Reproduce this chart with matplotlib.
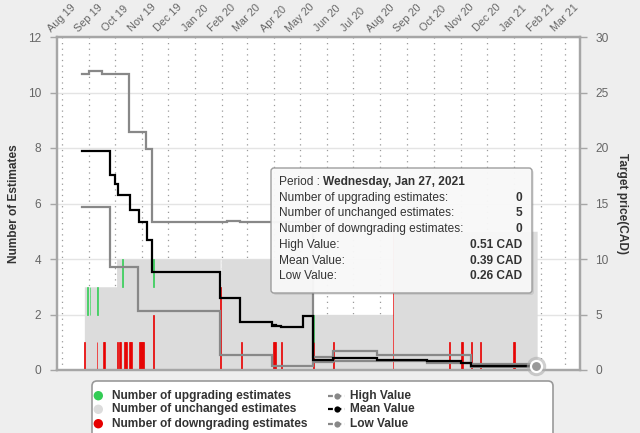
import matplotlib
matplotlib.use("Agg")
import matplotlib.pyplot as plt
import matplotlib.dates as mdates
import matplotlib.transforms as mtransforms
from matplotlib.patches import FancyBboxPatch, Circle
from matplotlib.lines import Line2D
import numpy as np
import pandas as pd

plt.rcParams['font.family'] = ['Liberation Sans', 'DejaVu Sans']

# ---------------- data ----------------
# total number of estimates (step segments, start dates)
seg_start = ['2019-08-27', '2019-10-03', '2020-01-30', '2020-01-31', '2020-05-16', '2020-08-15']
seg_total = [3, 4, 3, 4, 2, 5]
last_day = '2021-01-27'

up_dates = ['2019-08-30', '2019-09-02', '2019-09-11', '2019-10-09', '2019-11-14', '2020-05-16']
up_counts = [1, 1, 1, 1, 1, 1]

down_dates = ['2019-08-27', '2019-09-10', '2019-09-17', '2019-09-18', '2019-09-19',
              '2019-10-04', '2019-10-06', '2019-10-07', '2019-10-12', '2019-10-13',
              '2019-10-14', '2019-10-17', '2019-10-18', '2019-10-19', '2019-10-20',
              '2019-10-29', '2019-10-30', '2019-10-31', '2019-11-01', '2019-11-02',
              '2019-11-14', '2020-01-30', '2020-02-23', '2020-03-31', '2020-04-01',
              '2020-04-02', '2020-04-09', '2020-05-16', '2020-06-08', '2020-08-15',
              '2020-10-19', '2020-11-02', '2020-11-03', '2020-11-13', '2020-11-23',
              '2020-12-31', '2021-01-01']
down_counts = [1, 1, 1, 1, 1,
               1, 1, 1, 1, 1,
               1, 1, 1, 1, 1,
               1, 1, 1, 1, 1,
               2, 3, 1, 1, 1,
               1, 1, 1, 1, 5,
               1, 1, 1, 1, 1,
               1, 1]

high_dates = ['2019-08-24', '2019-09-01', '2019-09-16', '2019-10-17', '2019-11-06', '2019-11-13',
              '2020-02-07', '2020-02-22', '2020-05-16', '2020-06-08', '2020-07-28', '2020-11-13',
              '2021-01-27']
high_vals = [26.7, 26.9, 26.7, 21.4, 19.9, 13.3,
             13.4, 13.3, 1.14, 1.74, 1.38, 0.51,
             0.51]

mean_dates = ['2019-08-24', '2019-09-26', '2019-10-01', '2019-10-05', '2019-10-18', '2019-10-29',
              '2019-11-07', '2019-11-13', '2020-01-30', '2020-02-22', '2020-03-30', '2020-04-01',
              '2020-04-03', '2020-04-09', '2020-05-04', '2020-05-16', '2020-06-08', '2020-07-28',
              '2020-09-23', '2020-11-02', '2020-11-13', '2021-01-27']
mean_vals = [19.7, 17.6, 16.8, 15.8, 14.4, 13.3,
             11.7, 8.8, 6.5, 4.35, 3.96, 4.05,
             3.92, 3.85, 4.86, 0.9, 1.08, 0.93,
             0.78, 0.6, 0.39, 0.39]

low_dates = ['2019-08-24', '2019-09-26', '2019-10-28', '2020-01-30', '2020-03-30', '2020-05-16',
             '2020-06-08', '2020-09-23', '2020-11-13', '2021-01-27']
low_vals = [14.7, 9.3, 5.34, 1.35, 0.36, 0.7,
            0.78, 0.6, 0.26, 0.26]

tooltip_rows = ['Number of upgrading estimates:', 'Number of unchanged estimates:',
                'Number of downgrading estimates:', 'High Value:', 'Mean Value:', 'Low Value:']
tooltip_vals = ['0', '5', '0', '0.51 CAD', '0.39 CAD', '0.26 CAD']

legend_left = ['Number of upgrading estimates', 'Number of unchanged estimates',
               'Number of downgrading estimates']
legend_right = ['High Value', 'Mean Value', 'Low Value']

# ---------------- colours ----------------
C_UP = '#33cc55'
C_UNCH = '#dcdcdc'
C_DOWN = '#e60000'
C_HL = '#888888'
C_MEAN = '#000000'
C_FRAME = '#a6a6a6'
C_TXT = '#333333'
C_TICK = '#666666'
BG = '#eeeeee'

W, H = 640, 433
fig = plt.figure(figsize=(W / 100, H / 100), dpi=100, facecolor=BG)


def fx(x):
    return x / W


def fy(y):
    return 1 - y / H


L, R, T, B = 56.7, 580, 37, 370
ax = fig.add_axes([fx(L), fy(B), fx(R) - fx(L), fy(T) - fy(B)])
ax.set_facecolor('white')
ax2 = ax.twinx()

# ---------------- daily stacked columns ----------------
days = pd.date_range(seg_start[0], last_day, freq='D')
total = pd.Series(0.0, index=days)
for s, t in zip(seg_start, seg_total):
    total.loc[pd.Timestamp(s):] = t
up = pd.Series(0.0, index=days)
for d, c in zip(up_dates, up_counts):
    up.loc[pd.Timestamp(d)] += c
down = pd.Series(0.0, index=days)
for d, c in zip(down_dates, down_counts):
    down.loc[pd.Timestamp(d)] += c
unch = total - up - down

xd = mdates.date2num(days)
xe = np.append(xd, xd[-1] + 1)
lo = np.append(down.values, down.values[-1])
hi = np.append((down + unch).values, (down + unch).values[-1])
ax.fill_between(xe, lo, hi, step='post', color=C_UNCH, lw=0, zorder=2)

xdn = mdates.date2num(pd.to_datetime(down_dates))
ax.bar(xdn, down_counts, width=1.0, align='edge', color=C_DOWN, edgecolor=C_DOWN,
       linewidth=0.5, zorder=3)
xup = mdates.date2num(pd.to_datetime(up_dates))
up_base = [(down + unch).loc[pd.Timestamp(d)] for d in up_dates]
ax.bar(xup, up_counts, bottom=up_base, width=1.0, align='edge', color=C_UP,
       edgecolor=C_UP, linewidth=0.5, zorder=3)

# ---------------- target price lines ----------------
for dts, vals, col in [(low_dates, low_vals, C_HL), (high_dates, high_vals, C_HL),
                       (mean_dates, mean_vals, C_MEAN)]:
    ax2.step(mdates.date2num(pd.to_datetime(dts)), vals, where='post', color=col,
             lw=1.6, zorder=4, solid_joinstyle='miter')

# hover marker
xl = mdates.date2num(pd.Timestamp(last_day))
ax2.plot([xl], [0.39], 'o', ms=14, color='#b0b0b0', alpha=0.6, mew=0, zorder=6, clip_on=False)
ax2.plot([xl], [0.39], 'o', ms=8, color='#999999', mec='white', mew=1.6, zorder=7, clip_on=False)

# ---------------- axes formatting ----------------
ax.set_xlim(mdates.date2num(pd.Timestamp('2019-07-26 06:00')),
            mdates.date2num(pd.Timestamp('2021-03-18 05:00')))
ax.set_ylim(0, 12)
ax2.set_ylim(0, 30)
ax.set_yticks(np.arange(0, 13, 2))
ax2.set_yticks(np.arange(0, 31, 5))

ax.xaxis.tick_top()
ax.xaxis.set_major_locator(mdates.MonthLocator())
ax.xaxis.set_major_formatter(mdates.DateFormatter('%b %y'))
ax.tick_params(axis='x', which='both', length=0, pad=2.5, labelsize=7.8, labelcolor=C_TICK,
               top=True, bottom=False, labeltop=True, labelbottom=False)
for lab in ax.get_xticklabels():
    lab.set_rotation(45)
    lab.set_ha('center')
    lab.set_va('bottom')

ax.tick_params(axis='y', length=5, width=1, color=C_FRAME, labelsize=8.6,
               labelcolor=C_TICK, pad=6)
ax2.tick_params(axis='y', length=5, width=1, color=C_FRAME, labelsize=8.6,
                labelcolor=C_TICK, pad=6)
ax2.tick_params(axis='x', length=0)

ax.grid(False)
ax.yaxis.grid(True, color='#e4e4e4', lw=1.0, zorder=0)
ax.xaxis.grid(True, color='#9a9a9a', lw=0.9, linestyle=(0, (1, 3.5)), zorder=0)
ax.set_axisbelow(True)

for a in (ax, ax2):
    for sp in a.spines.values():
        sp.set_color(C_FRAME)
        sp.set_linewidth(1.6)

fig.text(fx(14), fy((T + B) / 2), 'Number of Estimates', rotation=90, ha='center',
         va='center', fontsize=8.6, fontweight='bold', color=C_TXT)
fig.text(fx(622), fy((T + B) / 2), 'Target price(CAD)', rotation=270, ha='center',
         va='center', fontsize=8.6, fontweight='bold', color=C_TXT)

ident = mtransforms.IdentityTransform()


def px_box(x0, y0, x1, y1, **kw):
    # pixel coords with y measured from top
    return FancyBboxPatch((x0, H - y1), x1 - x0, y1 - y0, transform=ident, **kw)


# ---------------- tooltip ----------------
fig.add_artist(px_box(273, 170, 534, 295, boxstyle='round,pad=0,rounding_size=3',
                      facecolor='#000000', alpha=0.08, lw=0, zorder=8))
fig.add_artist(px_box(271, 168, 532, 293, boxstyle='round,pad=0,rounding_size=3',
                      facecolor='#f9f9f9', edgecolor='#9a9a9a', lw=1.0, alpha=0.96, zorder=9))
t0 = fig.text(fx(279), fy(182), 'Period : ', ha='left', va='center', fontsize=8.6,
              color=C_TXT, zorder=10)
renderer = fig.canvas.get_renderer()
bb = t0.get_window_extent(renderer=renderer)
fig.text(bb.x1 / W, fy(182), 'Wednesday, Jan 27, 2021', ha='left', va='center',
         fontsize=8.6, fontweight='bold', color=C_TXT, zorder=10)
row_y = [197.5, 213, 229, 245, 260.5, 276]
for ry, lab, val in zip(row_y, tooltip_rows, tooltip_vals):
    fig.text(fx(279), fy(ry), lab, ha='left', va='center', fontsize=8.6, color=C_TXT, zorder=10)
    fig.text(fx(522), fy(ry), val, ha='right', va='center', fontsize=8.6,
             fontweight='bold', color=C_TXT, zorder=10)

# ---------------- legend ----------------
fig.add_artist(px_box(92, 381, 553, 445, boxstyle='round,pad=0,rounding_size=5',
                      facecolor='white', edgecolor='#999999', lw=1.2, zorder=8))
leg_y = [395.7, 409.3, 423.7]
for ly, lab, col in zip(leg_y, legend_left, [C_UP, C_UNCH, C_DOWN]):
    fig.add_artist(Circle((98.3, H - ly), 4.7, transform=ident, facecolor=col,
                          edgecolor='none', zorder=9))
    fig.text(fx(111.5), fy(ly), lab, ha='left', va='center', fontsize=8.6,
             fontweight='bold', color=C_TXT, zorder=10)
for ly, lab, col in zip(leg_y, legend_right, [C_HL, C_MEAN, C_HL]):
    fig.add_artist(Line2D([fx(328), fx(345)], [fy(ly), fy(ly)], transform=fig.transFigure,
                          color=col, lw=1.6, linestyle=(0, (2.2, 1.6)), zorder=9))
    fig.add_artist(Line2D([fx(336.5)], [fy(ly)], transform=fig.transFigure, marker='o',
                          ms=4.5, color=col, mew=0, zorder=10))
    fig.text(fx(350), fy(ly), lab, ha='left', va='center', fontsize=8.6,
             fontweight='bold', color=C_TXT, zorder=10)

fig.savefig('out.png', dpi=100, facecolor=BG)
